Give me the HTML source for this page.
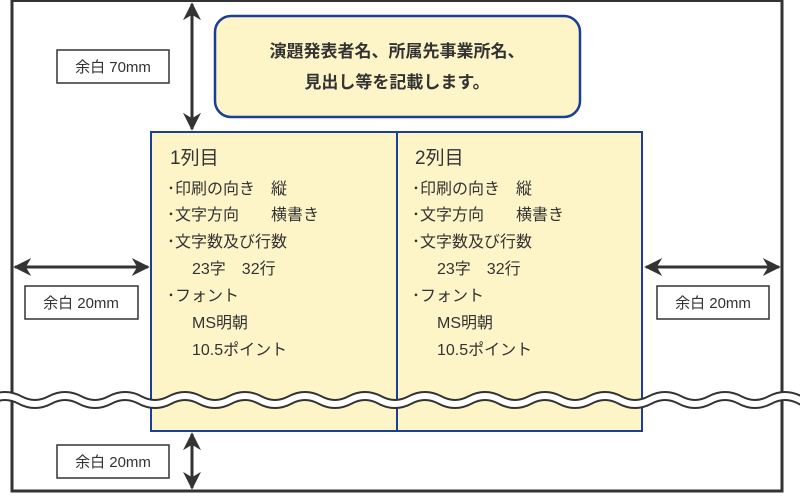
<!DOCTYPE html>
<html><head><meta charset="utf-8"><style>
body{margin:0;background:#fff;}
svg text{font-family:"Liberation Sans","Noto Sans CJK JP",sans-serif;fill:#333;}
</style></head><body>
<svg width="800" height="494" viewBox="0 0 800 494" xmlns="http://www.w3.org/2000/svg">
<defs>
<marker id="a" viewBox="0 0 10 10" refX="9" refY="5" markerWidth="6" markerHeight="6" orient="auto-start-reverse"><path d="M0,0 L10,5 L0,10 L3,5 z" fill="#333"/></marker>
</defs>
<rect x="12" y="0.5" width="770" height="490.5" fill="#fff" stroke="#333" stroke-width="3"/>
<rect x="215" y="16" width="365" height="101" rx="16" fill="#fdf4c8" stroke="#1b3f94" stroke-width="2.5"/>
<text x="397" y="57" font-size="17" font-weight="bold" text-anchor="middle">演題発表者名、所属先事業所名、</text>
<text x="397" y="88" font-size="17" font-weight="bold" text-anchor="middle">見出し等を記載します。</text>
<rect x="151" y="132" width="491" height="299" fill="#fdf4c8" stroke="#1b3f94" stroke-width="2"/>
<line x1="397" y1="132" x2="397" y2="431" stroke="#1b3f94" stroke-width="2"/>
<g font-size="16">
<text x="170" y="164" font-size="19">1列目</text>
<text x="167" y="194">･印刷の向き　縦</text>
<text x="167" y="220">･文字方向　　横書き</text>
<text x="167" y="247">･文字数及び行数</text>
<text x="192" y="274">23字　32行</text>
<text x="167" y="301">･フォント</text>
<text x="192" y="328">MS明朝</text>
<text x="192" y="355">10.5ポイント</text>
<text x="415" y="164" font-size="19">2列目</text>
<text x="412" y="194">･印刷の向き　縦</text>
<text x="412" y="220">･文字方向　　横書き</text>
<text x="412" y="247">･文字数及び行数</text>
<text x="437" y="274">23字　32行</text>
<text x="412" y="301">･フォント</text>
<text x="437" y="328">MS明朝</text>
<text x="437" y="355">10.5ポイント</text>
</g>
<g stroke="#333" stroke-width="3" fill="none">
<line x1="192" y1="4" x2="192" y2="129" marker-start="url(#a)" marker-end="url(#a)"/>
<line x1="192" y1="434" x2="192" y2="488" marker-start="url(#a)" marker-end="url(#a)"/>
<line x1="15" y1="267" x2="148" y2="267" marker-start="url(#a)" marker-end="url(#a)"/>
<line x1="646" y1="267" x2="779" y2="267" marker-start="url(#a)" marker-end="url(#a)"/>
</g>
<g fill="#fff" stroke="#333" stroke-width="1.5">
<rect x="57" y="50" width="112" height="33"/>
<rect x="25" y="286" width="113" height="33"/>
<rect x="657" y="286" width="112" height="33"/>
<rect x="57" y="445" width="112" height="33"/>
</g>
<g font-size="15" text-anchor="middle">
<text x="113" y="72">余白 70mm</text>
<text x="81" y="308">余白 20mm</text>
<text x="713" y="308">余白 20mm</text>
<text x="113" y="467">余白 20mm</text>
</g>
<path d="M-10,400 q15,-8 30,0 t30,0 t30,0 t30,0 t30,0 t30,0 t30,0 t30,0 t30,0 t30,0 t30,0 t30,0 t30,0 t30,0 t30,0 t30,0 t30,0 t30,0 t30,0 t30,0 t30,0 t30,0 t30,0 t30,0 t30,0 t30,0 t30,0 t30,0" fill="none" stroke="#333" stroke-width="10"/>
<path d="M-10,400 q15,-8 30,0 t30,0 t30,0 t30,0 t30,0 t30,0 t30,0 t30,0 t30,0 t30,0 t30,0 t30,0 t30,0 t30,0 t30,0 t30,0 t30,0 t30,0 t30,0 t30,0 t30,0 t30,0 t30,0 t30,0 t30,0 t30,0 t30,0 t30,0" fill="none" stroke="#fff" stroke-width="6"/>
</svg>
</body></html>
